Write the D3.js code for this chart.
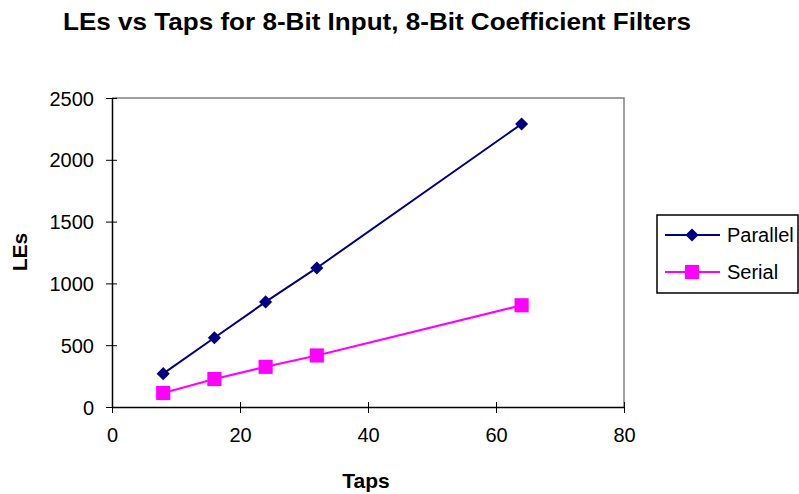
<!DOCTYPE html>
<html lang="en">
<head>
    <meta charset="UTF-8" />
    <title>LEs vs Taps</title>
    <script src="https://d3js.org/d3.v7.min.js"></script>
    <style>
        body { margin: 0; background: #fff; }
        text { font-family: "Liberation Sans", Arial, sans-serif; fill: #000; }
    </style>
</head>
<body>
    <script>
        var taps = [8, 16, 24, 32, 64];
        var parallel = [270, 560, 850, 1125, 2290];
        var serial = [113, 226, 325, 417, 823];
        var xTicks = [0, 20, 40, 60, 80];
        var yTicks = [0, 500, 1000, 1500, 2000, 2500];

        var w = 799;
        var h = 494;
        var plotLeft = 112, plotRight = 624, plotTop = 98, plotBottom = 407;

        var svg = d3.select("body")
            .append("svg")
            .attr("width", w)
            .attr("height", h);

        var xScale = d3.scaleLinear().domain([0, 80]).range([plotLeft, plotRight]);
        var yScale = d3.scaleLinear().domain([0, 2500]).range([plotBottom, plotTop]);

        // title
        svg.append("text")
            .attr("x", 63)
            .attr("y", 30)
            .attr("textLength", 628)
            .attr("lengthAdjust", "spacingAndGlyphs")
            .style("font-size", "24px")
            .style("font-weight", "bold")
            .text("LEs vs Taps for 8-Bit Input, 8-Bit Coefficient Filters");

        // plot area border (top & right are grey)
        svg.append("path")
            .attr("d", "M" + plotLeft + "," + plotTop + "H" + plotRight + "V" + plotBottom)
            .attr("fill", "none")
            .attr("stroke", "#808080")
            .attr("stroke-width", 1.5);

        // axes
        var xAxis = d3.axisBottom(xScale).tickValues(xTicks).tickSize(0).tickFormat(d3.format("d"));
        var gx = svg.append("g").attr("transform", "translate(0," + plotBottom + ")").call(xAxis);
        gx.select(".domain").attr("stroke", "#000").attr("stroke-width", 1.5);
        gx.selectAll(".tick line").attr("y1", -5).attr("y2", 6).attr("stroke", "#000");
        gx.selectAll("text").style("font-size", "20px").attr("dy", "0.71em").attr("y", 21);

        var yAxis = d3.axisLeft(yScale).tickValues(yTicks).tickSize(0).tickFormat(d3.format("d"));
        var gy = svg.append("g").attr("transform", "translate(" + plotLeft + ",0)").call(yAxis);
        gy.select(".domain").attr("stroke", "#000").attr("stroke-width", 1.5);
        gy.selectAll(".tick line").attr("x1", -6).attr("x2", 5).attr("stroke", "#000");
        gy.selectAll("text").style("font-size", "20px").attr("dy", "0.35em").attr("x", -18);
        svg.selectAll(".tick text").attr("fill", "#000").style("font-family", "'Liberation Sans', Arial, sans-serif");

        // axis titles
        svg.append("text")
            .attr("x", 366)
            .attr("y", 488)
            .attr("text-anchor", "middle")
            .style("font-size", "21px")
            .style("font-weight", "bold")
            .text("Taps");

        svg.append("text")
            .attr("transform", "translate(27,252) rotate(-90)")
            .attr("text-anchor", "middle")
            .style("font-size", "21px")
            .style("font-weight", "bold")
            .text("LEs");

        // series
        var series = [
            { name: "Parallel", values: parallel, color: "#000080", shape: d3.symbolDiamond2, size: 110 },
            { name: "Serial", values: serial, color: "#ff00ff", shape: d3.symbolSquare, size: 200 }
        ];

        var line = d3.line()
            .x(function(d) { return xScale(d[0]); })
            .y(function(d) { return yScale(d[1]); });

        series.forEach(function(s) {
            var pts = taps.map(function(t, i) { return [t, s.values[i]]; });
            svg.append("path")
                .datum(pts)
                .attr("d", line)
                .attr("fill", "none")
                .attr("stroke", s.color)
                .attr("stroke-width", 2);

            svg.selectAll(".m-" + s.name)
                .data(pts)
                .enter()
                .append("path")
                .attr("d", d3.symbol().type(s.shape).size(s.size))
                .attr("transform", function(d) {
                    return "translate(" + xScale(d[0]) + "," + yScale(d[1]) + ")";
                })
                .attr("fill", s.color);
        });

        // legend
        var lg = svg.append("g");
        lg.append("rect")
            .attr("x", 657)
            .attr("y", 215)
            .attr("width", 141)
            .attr("height", 78)
            .attr("fill", "#fff")
            .attr("stroke", "#000")
            .attr("stroke-width", 1.5);

        series.forEach(function(s, i) {
            var y = 235 + i * 37;
            lg.append("line")
                .attr("x1", 665).attr("x2", 720)
                .attr("y1", y).attr("y2", y)
                .attr("stroke", s.color)
                .attr("stroke-width", 2);
            lg.append("path")
                .attr("d", d3.symbol().type(s.shape).size(s.size))
                .attr("transform", "translate(692," + y + ")")
                .attr("fill", s.color);
            lg.append("text")
                .attr("x", 727)
                .attr("y", y)
                .attr("dy", "0.35em")
                .style("font-size", "20px")
                .text(s.name);
        });
    </script>
</body>
</html>
